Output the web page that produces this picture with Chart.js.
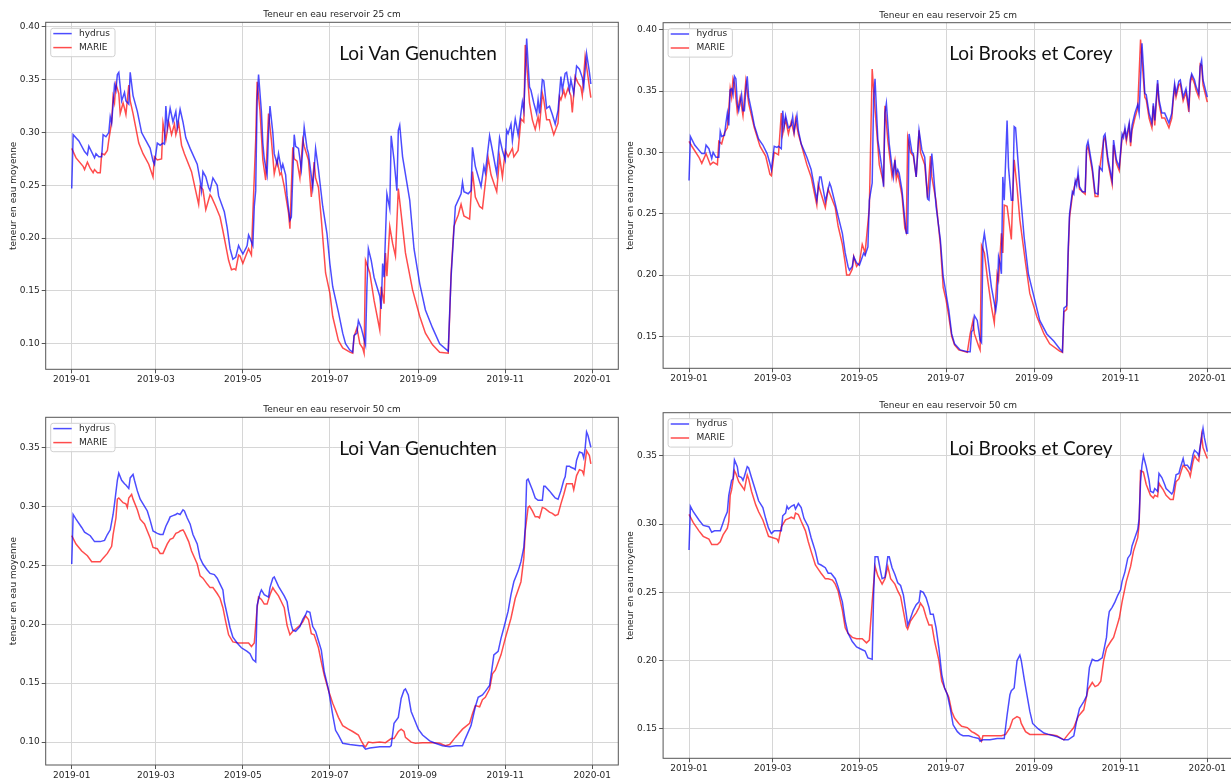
<!DOCTYPE html>
<html>
<head>
<meta charset="utf-8">
<script src="https://cdn.jsdelivr.net/npm/chart.js@4.4.1/dist/chart.umd.min.js"></script>
<style>
  html, body { margin: 0; padding: 0; background: #fff; overflow: hidden; }
  #page { position: relative; width: 1231px; height: 780px; overflow: hidden; background: #fff; }
  #page canvas { position: absolute; }
</style>
</head>
<body>
<div id="page">
  <canvas id="vg25"></canvas>
  <canvas id="bc25"></canvas>
  <canvas id="vg50"></canvas>
  <canvas id="bc50"></canvas>
</div>
<script>
// ---- Axis ticks (x = day of year 2019) ----
const MONTH_TICKS = [0, 59, 120, 181, 243, 304, 365];
const MONTH_LABELS = ['2019-01', '2019-03', '2019-05', '2019-07', '2019-09', '2019-11', '2020-01'];
const SERIES_LABELS = ['hydrus', 'MARIE'];
const Y_LABEL = 'teneur en eau moyenne';
const TITLE_25 = 'Teneur en eau reservoir 25 cm';
const TITLE_50 = 'Teneur en eau reservoir 50 cm';
const LAW_VG = 'Loi Van Genuchten';
const LAW_BC = 'Loi Brooks et Corey';
const Y_TICKS_VG25 = [0.10, 0.15, 0.20, 0.25, 0.30, 0.35, 0.40];
const Y_TICKS_BC25 = [0.15, 0.20, 0.25, 0.30, 0.35, 0.40];
const Y_TICKS_VG50 = [0.10, 0.15, 0.20, 0.25, 0.30, 0.35];
const Y_TICKS_BC50 = [0.15, 0.20, 0.25, 0.30, 0.35];

// ---- Water content series: [day, value] ----
// Van Genuchten, reservoir 25 cm
const vg25Hydrus = [[0,0.247],[1,0.298],[5,0.292],[9,0.282],[11,0.279],[12,0.287],[16,0.276],[17,0.280],[19,0.277],[21,0.277],[22,0.298],[24,0.296],[26,0.300],[27,0.315],[28,0.309],[30,0.345],[31,0.340],[32,0.355],[33,0.357],[35,0.330],[37,0.338],[38,0.330],[40,0.327],[41,0.357],[43,0.335],[46,0.320],[49,0.300],[51,0.295],[55,0.285],[57,0.273],[58,0.270],[60,0.290],[62,0.288],[64,0.290],[65,0.289],[66,0.325],[67,0.305],[69,0.323],[71,0.310],[73,0.320],[74,0.305],[76,0.322],[78,0.310],[80,0.295],[83,0.285],[88,0.270],[90,0.255],[91,0.245],[92,0.263],[94,0.258],[96,0.248],[97,0.245],[99,0.257],[102,0.250],[103,0.240],[107,0.225],[109,0.210],[111,0.190],[113,0.180],[115,0.182],[117,0.193],[118,0.190],[120,0.185],[122,0.190],[123,0.193],[124,0.203],[125,0.200],[127,0.193],[128,0.230],[129,0.245],[130,0.330],[131,0.355],[133,0.320],[134,0.290],[135,0.275],[137,0.260],[138,0.300],[139,0.325],[141,0.300],[142,0.280],[144,0.270],[145,0.280],[147,0.265],[148,0.270],[150,0.260],[151,0.240],[153,0.217],[154,0.220],[156,0.298],[157,0.287],[159,0.285],[161,0.265],[162,0.285],[163,0.305],[165,0.285],[166,0.280],[169,0.248],[170,0.265],[171,0.285],[173,0.265],[176,0.230],[179,0.204],[181,0.176],[183,0.154],[187,0.130],[190,0.110],[192,0.100],[195,0.094],[197,0.092],[198,0.108],[200,0.110],[201,0.122],[203,0.115],[206,0.099],[207,0.154],[208,0.190],[210,0.179],[212,0.163],[216,0.145],[217,0.133],[218,0.176],[219,0.163],[221,0.242],[223,0.228],[224,0.297],[226,0.274],[228,0.245],[229,0.302],[230,0.307],[232,0.277],[237,0.236],[240,0.190],[244,0.157],[248,0.132],[253,0.115],[258,0.100],[264,0.093],[265,0.129],[266,0.163],[268,0.208],[269,0.230],[271,0.236],[273,0.242],[274,0.253],[275,0.244],[278,0.242],[280,0.245],[281,0.286],[283,0.268],[287,0.249],[289,0.268],[290,0.262],[293,0.297],[295,0.283],[298,0.261],[300,0.295],[302,0.283],[304,0.274],[305,0.302],[306,0.299],[308,0.308],[309,0.292],[311,0.313],[313,0.298],[316,0.329],[317,0.321],[319,0.389],[320,0.365],[321,0.343],[322,0.340],[324,0.328],[326,0.318],[327,0.331],[328,0.318],[330,0.350],[331,0.349],[333,0.323],[335,0.325],[337,0.317],[339,0.308],[341,0.321],[343,0.353],[344,0.340],[346,0.356],[347,0.357],[349,0.340],[350,0.350],[352,0.337],[354,0.363],[356,0.360],[358,0.352],[359,0.343],[361,0.375],[363,0.357],[364,0.346]];
const vg25Marie = [[0,0.285],[3,0.276],[8,0.268],[9,0.265],[11,0.272],[13,0.266],[15,0.262],[16,0.265],[18,0.262],[20,0.262],[21,0.280],[23,0.279],[25,0.283],[26,0.293],[28,0.310],[29,0.334],[30,0.328],[31,0.346],[33,0.337],[34,0.318],[36,0.328],[37,0.323],[38,0.317],[40,0.345],[41,0.330],[43,0.318],[47,0.290],[50,0.280],[54,0.270],[57,0.258],[58,0.277],[60,0.274],[63,0.275],[64,0.309],[66,0.293],[68,0.310],[70,0.298],[72,0.308],[73,0.298],[75,0.309],[77,0.288],[79,0.280],[84,0.263],[89,0.232],[90,0.249],[92,0.246],[94,0.227],[97,0.241],[98,0.239],[101,0.230],[104,0.220],[106,0.207],[110,0.179],[112,0.170],[114,0.171],[115,0.170],[117,0.184],[118,0.183],[120,0.176],[122,0.183],[124,0.190],[126,0.184],[127,0.223],[129,0.293],[130,0.348],[132,0.321],[134,0.274],[136,0.255],[138,0.318],[140,0.293],[142,0.261],[144,0.274],[146,0.260],[147,0.262],[149,0.249],[152,0.224],[153,0.209],[155,0.286],[156,0.275],[158,0.273],[160,0.257],[162,0.293],[163,0.287],[166,0.274],[168,0.239],[170,0.272],[171,0.257],[173,0.248],[175,0.218],[178,0.167],[181,0.148],[183,0.126],[187,0.103],[190,0.096],[195,0.092],[197,0.091],[198,0.107],[200,0.115],[202,0.100],[204,0.096],[205,0.091],[206,0.179],[209,0.167],[212,0.141],[216,0.113],[217,0.154],[219,0.138],[220,0.186],[221,0.164],[223,0.211],[225,0.195],[227,0.183],[229,0.247],[231,0.223],[234,0.186],[239,0.151],[244,0.126],[248,0.110],[253,0.099],[258,0.092],[264,0.091],[265,0.126],[266,0.167],[268,0.211],[269,0.215],[271,0.222],[273,0.232],[275,0.221],[279,0.218],[281,0.263],[283,0.239],[286,0.230],[288,0.228],[292,0.276],[294,0.260],[298,0.244],[300,0.277],[302,0.258],[304,0.283],[306,0.277],[309,0.285],[310,0.277],[313,0.283],[315,0.313],[317,0.310],[318,0.383],[320,0.347],[321,0.328],[323,0.312],[325,0.303],[327,0.315],[328,0.306],[330,0.337],[331,0.331],[333,0.312],[335,0.312],[338,0.298],[341,0.309],[342,0.334],[343,0.331],[345,0.340],[346,0.334],[348,0.342],[350,0.335],[351,0.319],[353,0.353],[355,0.347],[357,0.343],[358,0.335],[360,0.372],[362,0.353],[364,0.333]];

// Brooks et Corey, reservoir 25 cm
const bc25Hydrus = [[0,0.277],[1,0.313],[4,0.306],[9,0.299],[11,0.299],[12,0.306],[14,0.303],[16,0.295],[17,0.300],[19,0.296],[21,0.296],[22,0.317],[23,0.313],[25,0.314],[26,0.324],[27,0.332],[28,0.322],[29,0.351],[30,0.352],[31,0.347],[32,0.362],[33,0.360],[34,0.340],[35,0.334],[37,0.347],[38,0.334],[39,0.334],[40,0.351],[41,0.362],[42,0.345],[44,0.334],[46,0.322],[49,0.311],[52,0.306],[55,0.299],[57,0.291],[58,0.286],[60,0.305],[62,0.304],[63,0.305],[65,0.303],[66,0.334],[67,0.321],[68,0.330],[70,0.320],[72,0.322],[73,0.329],[74,0.317],[76,0.330],[77,0.318],[79,0.307],[83,0.296],[86,0.286],[90,0.261],[92,0.280],[93,0.280],[96,0.260],[99,0.275],[100,0.272],[103,0.258],[105,0.248],[108,0.234],[110,0.218],[112,0.207],[113,0.204],[115,0.207],[116,0.215],[118,0.210],[120,0.208],[123,0.218],[124,0.216],[126,0.223],[127,0.261],[129,0.275],[130,0.343],[131,0.360],[133,0.310],[136,0.286],[137,0.272],[138,0.332],[139,0.340],[141,0.307],[143,0.288],[144,0.280],[145,0.294],[146,0.283],[147,0.286],[148,0.283],[150,0.269],[152,0.245],[153,0.234],[154,0.234],[155,0.315],[157,0.300],[158,0.299],[160,0.280],[162,0.318],[164,0.302],[166,0.296],[168,0.262],[169,0.261],[171,0.299],[172,0.286],[174,0.256],[177,0.229],[179,0.199],[181,0.185],[183,0.171],[185,0.152],[187,0.144],[191,0.139],[196,0.1375],[198,0.1375],[199,0.154],[200,0.155],[201,0.167],[203,0.163],[205,0.147],[206,0.145],[207,0.226],[208,0.234],[210,0.218],[213,0.190],[216,0.171],[217,0.180],[218,0.215],[219,0.210],[220,0.201],[221,0.280],[222,0.261],[224,0.326],[225,0.288],[227,0.261],[228,0.261],[229,0.321],[230,0.320],[233,0.272],[236,0.231],[239,0.201],[243,0.182],[247,0.163],[252,0.152],[257,0.146],[261,0.140],[263,0.1375],[264,0.173],[266,0.175],[267,0.220],[268,0.250],[270,0.268],[271,0.266],[272,0.277],[273,0.273],[274,0.284],[275,0.272],[277,0.268],[279,0.268],[280,0.305],[281,0.309],[284,0.288],[286,0.267],[288,0.266],[289,0.288],[291,0.285],[292,0.313],[293,0.315],[295,0.295],[298,0.277],[299,0.310],[301,0.294],[303,0.288],[305,0.315],[306,0.312],[307,0.320],[308,0.312],[310,0.324],[311,0.308],[312,0.322],[314,0.332],[316,0.339],[317,0.332],[319,0.389],[320,0.370],[321,0.348],[322,0.347],[324,0.332],[326,0.324],[327,0.340],[328,0.326],[330,0.359],[331,0.343],[333,0.332],[335,0.332],[338,0.324],[340,0.332],[341,0.345],[342,0.356],[343,0.348],[345,0.358],[346,0.359],[348,0.345],[350,0.352],[352,0.337],[353,0.359],[354,0.364],[356,0.359],[357,0.354],[359,0.348],[360,0.370],[361,0.375],[362,0.359],[365,0.345]];
const bc25Marie = [[0,0.309],[2,0.305],[7,0.296],[9,0.291],[12,0.299],[15,0.290],[17,0.292],[20,0.290],[21,0.309],[23,0.307],[25,0.316],[27,0.320],[28,0.335],[29,0.352],[30,0.345],[31,0.360],[32,0.356],[34,0.333],[36,0.345],[38,0.330],[40,0.358],[42,0.340],[46,0.320],[50,0.305],[54,0.297],[57,0.282],[58,0.281],[60,0.300],[63,0.298],[65,0.332],[66,0.315],[68,0.327],[70,0.315],[72,0.325],[74,0.315],[75,0.327],[77,0.315],[83,0.290],[86,0.280],[90,0.257],[91,0.274],[96,0.255],[98,0.270],[103,0.255],[105,0.240],[108,0.225],[110,0.210],[111,0.200],[113,0.200],[115,0.205],[116,0.215],[118,0.207],[120,0.210],[122,0.225],[124,0.218],[127,0.255],[129,0.368],[131,0.335],[134,0.290],[137,0.275],[138,0.338],[140,0.310],[143,0.280],[145,0.293],[146,0.278],[147,0.283],[150,0.265],[152,0.238],[153,0.235],[154,0.312],[156,0.300],[158,0.297],[160,0.280],[162,0.318],[163,0.300],[166,0.290],[168,0.263],[170,0.297],[171,0.280],[174,0.260],[177,0.225],[179,0.190],[181,0.180],[183,0.166],[185,0.150],[187,0.143],[190,0.139],[196,0.137],[198,0.152],[200,0.163],[201,0.152],[204,0.142],[205,0.139],[206,0.224],[208,0.218],[210,0.199],[213,0.174],[215,0.161],[217,0.201],[218,0.196],[220,0.234],[221,0.218],[222,0.257],[224,0.256],[227,0.229],[228,0.264],[229,0.294],[231,0.272],[233,0.245],[237,0.210],[240,0.185],[245,0.166],[250,0.152],[254,0.144],[261,0.138],[263,0.137],[264,0.170],[266,0.172],[267,0.215],[268,0.247],[270,0.265],[272,0.275],[274,0.280],[275,0.270],[277,0.268],[279,0.266],[280,0.302],[281,0.305],[284,0.285],[286,0.264],[288,0.264],[289,0.285],[292,0.310],[293,0.312],[295,0.292],[298,0.274],[299,0.306],[301,0.291],[303,0.285],[305,0.312],[307,0.318],[308,0.309],[310,0.322],[311,0.305],[312,0.318],[314,0.328],[316,0.336],[318,0.392],[320,0.360],[321,0.345],[322,0.343],[324,0.328],[326,0.320],[327,0.338],[328,0.322],[330,0.356],[331,0.340],[333,0.328],[335,0.328],[338,0.320],[340,0.328],[341,0.342],[342,0.353],[343,0.345],[345,0.355],[346,0.356],[348,0.342],[350,0.349],[352,0.333],[353,0.356],[354,0.362],[356,0.356],[357,0.351],[359,0.345],[360,0.372],[361,0.371],[362,0.355],[365,0.341]];

// Van Genuchten, reservoir 50 cm
const vg50Hydrus = [[0,0.251],[1,0.293],[3,0.289],[7,0.282],[9,0.278],[13,0.275],[16,0.270],[20,0.270],[23,0.271],[25,0.276],[27,0.280],[29,0.293],[30,0.302],[32,0.322],[33,0.328],[35,0.322],[37,0.319],[38,0.318],[40,0.315],[41,0.324],[43,0.327],[44,0.322],[46,0.313],[48,0.306],[50,0.302],[53,0.296],[55,0.288],[57,0.279],[60,0.277],[62,0.276],[64,0.276],[66,0.283],[68,0.288],[69,0.291],[71,0.292],[73,0.293],[74,0.294],[76,0.293],[78,0.297],[79,0.296],[81,0.290],[83,0.285],[85,0.276],[88,0.268],[90,0.256],[92,0.251],[95,0.246],[97,0.243],[100,0.242],[102,0.239],[104,0.234],[106,0.229],[107,0.219],[109,0.208],[111,0.197],[113,0.189],[116,0.184],[119,0.180],[123,0.177],[125,0.175],[127,0.170],[129,0.168],[130,0.216],[132,0.226],[133,0.229],[135,0.225],[138,0.223],[139,0.231],[141,0.239],[142,0.240],[145,0.232],[147,0.228],[149,0.224],[151,0.219],[152,0.211],[154,0.199],[155,0.195],[157,0.194],[160,0.198],[162,0.204],[164,0.208],[165,0.211],[167,0.210],[169,0.198],[171,0.194],[173,0.186],[175,0.178],[177,0.160],[180,0.145],[183,0.123],[185,0.110],[187,0.106],[190,0.099],[195,0.098],[202,0.097],[204,0.097],[206,0.094],[209,0.095],[216,0.096],[223,0.096],[224,0.097],[226,0.116],[229,0.121],[231,0.137],[233,0.144],[234,0.145],[236,0.140],[238,0.126],[240,0.120],[243,0.111],[246,0.106],[251,0.101],[255,0.099],[260,0.097],[265,0.096],[269,0.097],[274,0.097],[276,0.103],[280,0.114],[283,0.130],[285,0.138],[288,0.140],[290,0.143],[293,0.148],[295,0.165],[296,0.174],[299,0.177],[301,0.188],[303,0.197],[306,0.211],[308,0.225],[310,0.236],[313,0.245],[315,0.253],[317,0.265],[318,0.282],[319,0.322],[320,0.323],[322,0.317],[323,0.314],[325,0.307],[327,0.305],[328,0.305],[330,0.305],[331,0.317],[332,0.317],[335,0.313],[337,0.310],[339,0.307],[341,0.306],[343,0.313],[345,0.322],[346,0.325],[347,0.334],[349,0.334],[350,0.333],[352,0.332],[353,0.331],[354,0.339],[356,0.346],[358,0.345],[359,0.341],[360,0.349],[361,0.363],[362,0.360],[364,0.350]];
const vg50Marie = [[0,0.275],[3,0.268],[7,0.262],[11,0.258],[14,0.253],[16,0.253],[20,0.253],[22,0.256],[25,0.260],[28,0.266],[29,0.276],[31,0.290],[32,0.306],[33,0.307],[36,0.303],[38,0.302],[39,0.299],[40,0.307],[42,0.310],[43,0.306],[46,0.297],[48,0.289],[51,0.285],[53,0.279],[55,0.273],[57,0.265],[60,0.264],[62,0.260],[64,0.260],[67,0.268],[69,0.272],[71,0.273],[73,0.277],[75,0.278],[76,0.279],[78,0.280],[79,0.278],[82,0.270],[84,0.262],[88,0.251],[90,0.241],[92,0.239],[95,0.234],[97,0.231],[99,0.231],[102,0.226],[104,0.222],[106,0.214],[108,0.202],[110,0.191],[113,0.185],[117,0.184],[120,0.184],[124,0.184],[126,0.181],[128,0.184],[130,0.214],[131,0.223],[133,0.221],[135,0.217],[137,0.217],[139,0.225],[141,0.231],[142,0.229],[145,0.224],[147,0.219],[149,0.214],[151,0.199],[153,0.191],[155,0.194],[158,0.197],[160,0.199],[162,0.202],[164,0.207],[166,0.204],[168,0.192],[170,0.191],[173,0.180],[175,0.168],[177,0.157],[180,0.144],[183,0.133],[187,0.121],[190,0.114],[194,0.111],[197,0.109],[201,0.106],[203,0.101],[205,0.097],[206,0.096],[208,0.100],[211,0.0995],[216,0.100],[220,0.0995],[224,0.103],[226,0.103],[229,0.109],[231,0.111],[233,0.109],[234,0.104],[238,0.100],[241,0.099],[246,0.0995],[253,0.0995],[258,0.099],[262,0.097],[265,0.098],[269,0.104],[274,0.111],[279,0.116],[281,0.124],[283,0.131],[286,0.130],[288,0.136],[290,0.138],[293,0.145],[295,0.158],[297,0.161],[301,0.174],[304,0.188],[308,0.205],[311,0.222],[315,0.236],[317,0.256],[318,0.279],[320,0.299],[321,0.300],[323,0.296],[325,0.291],[327,0.291],[328,0.290],[330,0.299],[332,0.298],[335,0.295],[337,0.294],[339,0.292],[341,0.293],[343,0.302],[345,0.310],[347,0.319],[349,0.319],[351,0.319],[352,0.314],[354,0.326],[356,0.331],[358,0.330],[359,0.327],[361,0.347],[363,0.343],[364,0.336]];

// Brooks et Corey, reservoir 50 cm
const bc50Hydrus = [[0,0.281],[1,0.313],[3,0.309],[7,0.303],[10,0.299],[14,0.298],[16,0.294],[18,0.295],[22,0.295],[24,0.301],[25,0.304],[27,0.309],[28,0.321],[30,0.332],[31,0.333],[32,0.347],[34,0.342],[35,0.335],[37,0.334],[38,0.332],[39,0.335],[41,0.342],[42,0.341],[44,0.334],[47,0.324],[49,0.317],[52,0.312],[54,0.304],[56,0.297],[58,0.293],[60,0.295],[63,0.295],[65,0.295],[66,0.306],[68,0.308],[69,0.313],[70,0.311],[72,0.313],[74,0.314],[75,0.311],[77,0.315],[79,0.312],[81,0.304],[84,0.298],[86,0.290],[89,0.280],[91,0.271],[93,0.270],[96,0.268],[98,0.264],[100,0.264],[103,0.260],[105,0.254],[108,0.243],[110,0.229],[112,0.220],[115,0.214],[118,0.210],[122,0.208],[124,0.207],[126,0.202],[129,0.201],[130,0.248],[131,0.276],[133,0.276],[135,0.265],[136,0.260],[138,0.261],[140,0.276],[141,0.276],[143,0.268],[145,0.263],[147,0.257],[149,0.255],[151,0.248],[153,0.234],[154,0.226],[156,0.231],[158,0.237],[160,0.241],[162,0.243],[163,0.251],[165,0.250],[167,0.246],[169,0.239],[170,0.234],[172,0.234],[174,0.224],[176,0.209],[178,0.190],[180,0.180],[182,0.175],[184,0.165],[186,0.153],[189,0.148],[191,0.146],[193,0.145],[197,0.145],[200,0.144],[204,0.143],[205,0.141],[207,0.142],[212,0.142],[217,0.143],[222,0.143],[224,0.160],[226,0.175],[227,0.178],[229,0.180],[231,0.200],[233,0.204],[234,0.200],[236,0.187],[238,0.175],[240,0.163],[242,0.154],[246,0.150],[250,0.147],[253,0.146],[257,0.145],[260,0.144],[264,0.142],[267,0.142],[271,0.145],[273,0.156],[275,0.165],[278,0.170],[280,0.174],[281,0.185],[282,0.195],[284,0.201],[286,0.200],[288,0.200],[291,0.202],[292,0.207],[294,0.217],[295,0.229],[296,0.236],[298,0.239],[300,0.243],[302,0.248],[304,0.252],[305,0.258],[307,0.265],[309,0.275],[311,0.278],[312,0.284],[314,0.290],[316,0.296],[317,0.304],[318,0.331],[319,0.343],[320,0.350],[322,0.342],[324,0.332],[325,0.324],[327,0.323],[328,0.326],[330,0.324],[331,0.337],[333,0.334],[335,0.329],[336,0.326],[338,0.324],[340,0.322],[341,0.324],[343,0.336],[345,0.337],[346,0.341],[348,0.348],[349,0.343],[351,0.343],[353,0.340],[355,0.351],[356,0.354],[358,0.352],[359,0.350],[360,0.357],[362,0.370],[363,0.363],[365,0.353]];
const bc50Marie = [[0,0.307],[3,0.301],[7,0.295],[10,0.291],[14,0.289],[16,0.285],[20,0.285],[22,0.287],[24,0.292],[27,0.297],[28,0.302],[29,0.321],[30,0.325],[32,0.339],[33,0.337],[35,0.331],[37,0.328],[39,0.325],[41,0.336],[42,0.333],[44,0.324],[47,0.314],[49,0.309],[52,0.303],[54,0.297],[56,0.291],[59,0.290],[62,0.289],[63,0.287],[65,0.298],[68,0.303],[70,0.304],[72,0.305],[74,0.304],[75,0.308],[77,0.307],[79,0.302],[82,0.295],[84,0.287],[86,0.280],[89,0.270],[91,0.267],[93,0.264],[96,0.260],[98,0.260],[101,0.259],[103,0.256],[105,0.251],[108,0.237],[110,0.224],[112,0.220],[115,0.217],[118,0.216],[122,0.216],[125,0.213],[127,0.215],[129,0.243],[131,0.269],[133,0.262],[136,0.256],[138,0.260],[140,0.269],[142,0.260],[145,0.256],[147,0.251],[149,0.247],[151,0.236],[153,0.225],[154,0.223],[156,0.229],[158,0.232],[160,0.235],[162,0.239],[163,0.242],[165,0.239],[167,0.232],[169,0.226],[171,0.226],[173,0.214],[176,0.200],[178,0.185],[180,0.180],[183,0.173],[185,0.163],[187,0.158],[190,0.154],[192,0.152],[196,0.151],[199,0.148],[201,0.147],[204,0.145],[206,0.141],[207,0.145],[211,0.145],[214,0.145],[217,0.145],[220,0.145],[223,0.146],[226,0.151],[228,0.157],[231,0.159],[233,0.158],[234,0.154],[237,0.148],[240,0.146],[245,0.146],[250,0.146],[254,0.146],[259,0.145],[264,0.142],[267,0.146],[271,0.151],[274,0.159],[278,0.164],[280,0.174],[281,0.179],[284,0.184],[286,0.181],[288,0.182],[290,0.185],[292,0.200],[294,0.209],[297,0.214],[299,0.217],[301,0.224],[303,0.231],[305,0.243],[308,0.258],[311,0.269],[313,0.280],[316,0.290],[317,0.300],[318,0.339],[320,0.338],[322,0.329],[325,0.321],[327,0.319],[328,0.321],[330,0.320],[331,0.330],[332,0.328],[334,0.325],[336,0.321],[339,0.318],[341,0.318],[343,0.331],[345,0.333],[347,0.340],[348,0.343],[350,0.341],[352,0.338],[353,0.335],[355,0.346],[356,0.350],[358,0.347],[359,0.346],[361,0.365],[362,0.356],[365,0.348]];

// ---- Panel layout (page pixels) ----
const PANELS = [
  { id: 'vg25', box: { l: 0, t: 0, w: 625, h: 395 }, area: { l: 45.7, t: 22.3, r: 618.3, b: 369.3 },
    y: [0.0758, 0.4044], yTicks: Y_TICKS_VG25, title: TITLE_25, law: LAW_VG, lawPos: [339.3, 60],
    hydrus: vg25Hydrus, marie: vg25Marie },
  { id: 'bc25', box: { l: 625, t: 0, w: 615, h: 395 }, area: { l: 663.1, t: 22.7, r: 1233.2, b: 368.3 },
    y: [0.124, 0.4057], yTicks: Y_TICKS_BC25, title: TITLE_25, law: LAW_BC, lawPos: [949.3, 60],
    hydrus: bc25Hydrus, marie: bc25Marie },
  { id: 'vg50', box: { l: 0, t: 395, w: 625, h: 385 }, area: { l: 45.7, t: 417.3, r: 618.3, b: 765 },
    y: [0.0806, 0.3754], yTicks: Y_TICKS_VG50, title: TITLE_50, law: LAW_VG, lawPos: [339.3, 455],
    hydrus: vg50Hydrus, marie: vg50Marie },
  { id: 'bc50', box: { l: 625, t: 395, w: 615, h: 385 }, area: { l: 663.1, t: 412.7, r: 1233.2, b: 758.3 },
    y: [0.1285, 0.3815], yTicks: Y_TICKS_BC50, title: TITLE_50, law: LAW_BC, lawPos: [949.3, 455],
    hydrus: bc50Hydrus, marie: bc50Marie }
];

const BLUE = 'rgba(0,0,255,0.7)';
const RED = 'rgba(255,0,0,0.7)';
const TEXT = '#262626';
const FONT = '"DejaVu Sans", sans-serif';

Chart.defaults.font.family = FONT;
Chart.defaults.font.size = 9;
Chart.defaults.color = TEXT;

// Frame, title, y label, law caption and legend box
const panelDecor = {
  id: 'panelDecor',
  afterDatasetsDraw(chart, args, o) {
    const { ctx, chartArea: a } = chart;
    ctx.save();
    // axes frame
    ctx.strokeStyle = '#555';
    ctx.lineWidth = 1;
    ctx.strokeRect(a.left, a.top, a.right - a.left, a.bottom - a.top);

    // law caption
    ctx.fillStyle = '#111';
    ctx.font = '19px Lato, "Liberation Sans", sans-serif';
    ctx.textAlign = 'left';
    ctx.textBaseline = 'alphabetic';
    ctx.fillText(o.law, o.lawX, o.lawY);

    // legend
    const lx = a.left + 5, ly = a.top + 6, lw = 64.3, lh = 28.4;
    ctx.beginPath();
    ctx.roundRect(lx, ly, lw, lh, 2.5);
    ctx.fillStyle = 'rgba(255,255,255,0.8)';
    ctx.fill();
    ctx.strokeStyle = '#d0d0d0';
    ctx.lineWidth = 1;
    ctx.stroke();
    const ds = chart.data.datasets;
    ds.forEach((d, i) => {
      const yy = ly + 5.3 + i * 14;
      ctx.beginPath();
      ctx.moveTo(lx + 2.6, yy);
      ctx.lineTo(lx + 21, yy);
      ctx.strokeStyle = d.borderColor;
      ctx.lineWidth = 1.5;
      ctx.stroke();
      ctx.fillStyle = TEXT;
      ctx.font = '9px ' + FONT;
      ctx.textBaseline = 'middle';
      ctx.fillText(d.label, lx + 28.3, yy);
    });

    // title
    ctx.fillStyle = TEXT;
    ctx.font = '9px ' + FONT;
    ctx.textAlign = 'center';
    ctx.textBaseline = 'middle';
    ctx.fillText(o.title, (a.left + a.right) / 2, a.top - 7.3);

    // y axis label
    ctx.translate(a.left - 32, (a.top + a.bottom) / 2);
    ctx.rotate(-Math.PI / 2);
    ctx.fillText(Y_LABEL, 0, 0);
    ctx.restore();
  }
};

function toPoints(series) {
  return series.map(([d, v]) => ({ x: d, y: v }));
}

PANELS.forEach(p => {
  const cv = document.getElementById(p.id);
  cv.width = p.box.w;
  cv.height = p.box.h;
  cv.style.left = p.box.l + 'px';
  cv.style.top = p.box.t + 'px';
  cv.style.width = p.box.w + 'px';
  cv.style.height = p.box.h + 'px';

  const padTop = p.area.t - p.box.t;
  const padRight = p.box.w - (p.area.r - p.box.l);
  const yWidth = p.area.l - p.box.l;
  const xHeight = p.box.t + p.box.h - p.area.b;

  new Chart(cv, {
    type: 'line',
    data: {
      datasets: [
        { label: SERIES_LABELS[0], data: toPoints(p.hydrus), borderColor: BLUE, backgroundColor: BLUE,
          borderWidth: 1.5, pointRadius: 0, tension: 0, fill: false },
        { label: SERIES_LABELS[1], data: toPoints(p.marie), borderColor: RED, backgroundColor: RED,
          borderWidth: 1.5, pointRadius: 0, tension: 0, fill: false }
      ]
    },
    options: {
      responsive: false,
      animation: false,
      devicePixelRatio: 1,
      events: [],
      layout: { padding: { left: 0, top: padTop, right: padRight, bottom: 0 } },
      plugins: {
        legend: { display: false },
        tooltip: { enabled: false },
        title: { display: false },
        panelDecor: { title: p.title, law: p.law, lawX: p.lawPos[0] - p.box.l, lawY: p.lawPos[1] - p.box.t }
      },
      scales: {
        x: {
          type: 'linear',
          min: -18.25,
          max: 383.25,
          afterBuildTicks: s => { s.ticks = MONTH_TICKS.map(v => ({ value: v })); },
          afterFit: s => { s.height = xHeight; },
          ticks: {
            autoSkip: false, maxRotation: 0, padding: 1, color: TEXT,
            callback: (v, i) => MONTH_LABELS[i]
          },
          grid: { color: '#d6d6d6', lineWidth: 1, drawTicks: true, tickLength: 4, tickColor: '#555' },
          border: { display: false }
        },
        y: {
          type: 'linear',
          min: p.y[0],
          max: p.y[1],
          afterBuildTicks: s => { s.ticks = p.yTicks.map(v => ({ value: v })); },
          afterFit: s => { s.width = yWidth; },
          ticks: {
            autoSkip: false, padding: 2, color: TEXT,
            callback: v => v.toFixed(2)
          },
          grid: { color: '#d6d6d6', lineWidth: 1, drawTicks: true, tickLength: 4, tickColor: '#555' },
          border: { display: false }
        }
      }
    },
    plugins: [panelDecor]
  });
});
</script>
</body>
</html>
